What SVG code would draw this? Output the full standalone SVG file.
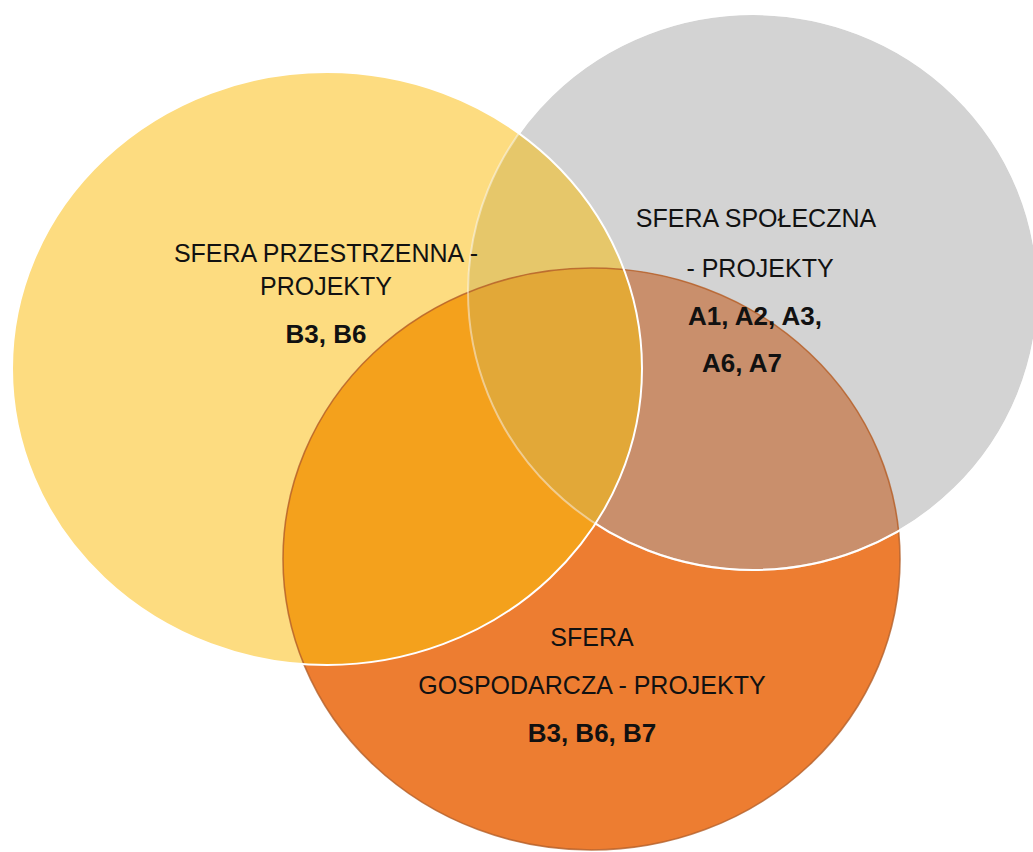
<svg xmlns="http://www.w3.org/2000/svg" width="1033" height="852" viewBox="0 0 1033 852">
  <style>
    .lbl { font-family: "Liberation Sans", Arial, sans-serif; font-size: 25px; fill: #111111; text-anchor: middle; }
    .ids { font-family: "Liberation Sans", Arial, sans-serif; font-size: 26px; font-weight: bold; fill: #111111; text-anchor: middle; }
    .edgeW { fill: none; stroke: #ffffff; stroke-width: 2; }
    .edgeO { fill: none; stroke: #b4602a; stroke-width: 1.6; stroke-opacity: 0.8; }
  </style>
  <defs>
    <ellipse id="eY" cx="327" cy="368.5" rx="315" ry="296.5"/>
    <ellipse id="eG" cx="753" cy="292" rx="285" ry="278"/>
    <ellipse id="eO" cx="591.5" cy="559" rx="308.5" ry="291"/>
    <clipPath id="cY"><use href="#eY"/></clipPath>
    <clipPath id="cG"><use href="#eG"/></clipPath>
    <mask id="mNotY" maskUnits="userSpaceOnUse" x="0" y="0" width="1033" height="852">
      <rect x="0" y="0" width="1033" height="852" fill="#ffffff"/>
      <use href="#eY" fill="#000000"/>
    </mask>
  </defs>
  <rect x="0" y="0" width="1033" height="852" fill="#ffffff"/>

  <g id="circle-przestrzenna">
    <use href="#eY" fill="#fddc80"/>
  </g>
  <g id="circle-spoleczna">
    <use href="#eG" fill="#d3d3d3"/>
  </g>
  <g id="circle-gospodarcza">
    <use href="#eO" fill="#ed7d31"/>
  </g>

  <g id="overlaps">
    <use href="#eG" fill="#e6c76a" clip-path="url(#cY)"/>
    <use href="#eO" fill="#f4a11c" clip-path="url(#cY)"/>
    <use href="#eO" fill="#c98f6c" clip-path="url(#cG)"/>
    <g clip-path="url(#cY)">
      <use href="#eO" fill="#e2a838" clip-path="url(#cG)"/>
    </g>
  </g>

  <g id="edges">
    <use href="#eO" class="edgeO"/>
    <use href="#eG" class="edgeW" stroke-opacity="0.45"/>
    <use href="#eG" class="edgeW" mask="url(#mNotY)"/>
    <use href="#eY" class="edgeW"/>
  </g>

  <g id="label-przestrzenna">
    <text class="lbl" x="326" y="262">SFERA PRZESTRZENNA -</text>
    <text class="lbl" x="326" y="295">PROJEKTY</text>
    <text class="ids" x="326" y="343">B3, B6</text>
  </g>
  <g id="label-spoleczna">
    <text class="lbl" x="756" y="227">SFERA SPOŁECZNA</text>
    <text class="lbl" x="760" y="277">- PROJEKTY</text>
    <text class="ids" x="755" y="325">A1, A2, A3,</text>
    <text class="ids" x="742" y="372">A6, A7</text>
  </g>
  <g id="label-gospodarcza">
    <text class="lbl" x="592" y="646">SFERA</text>
    <text class="lbl" x="592" y="694">GOSPODARCZA - PROJEKTY</text>
    <text class="ids" x="592" y="742">B3, B6, B7</text>
  </g>
</svg>
